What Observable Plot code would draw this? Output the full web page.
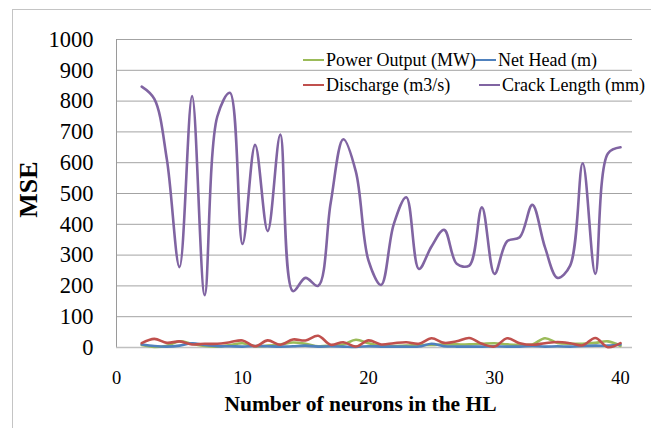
<!DOCTYPE html>
<html><head><meta charset="utf-8">
<script src="https://cdn.jsdelivr.net/npm/d3@7"></script>
<script src="https://cdn.jsdelivr.net/npm/@observablehq/plot@0.6"></script>
<style>
body{margin:0;background:#fff;}
#wrap{position:relative;width:651px;height:428px;overflow:hidden;font-family:"Liberation Serif","Times New Roman",serif;}
#border{position:absolute;left:12px;top:9px;width:700px;height:500px;border-left:1px solid #c4c4c4;border-top:1px solid #c4c4c4;}
#chart{position:absolute;left:0;top:0;}
.lg{position:absolute;display:flex;align-items:center;font-size:18px;color:#000;white-space:nowrap;line-height:1;}
.lg span.sw{display:inline-block;width:21px;height:2.5px;margin-right:2px;}
</style></head>
<body>
<div id="wrap"><div id="border"></div><div id="chart"></div></div>
<script>
const neurons = [2,3,4,5,6,7,8,9,10,11,12,13,14,15,16,17,18,19,20,21,22,23,24,25,26,27,28,29,30,31,32,33,34,35,36,37,38,39,40];
const powerOutput = [8,2,6,20,12,5,3,8,14,4,6,10,16,12,4,6,10,25,14,6,5,6,8,8,10,10,10,12,14,10,9,10,30,15,12,12,15,20,5];
const netHead = [10,5,3,6,14,8,4,4,3,5,4,3,4,6,3,4,3,2,4,3,3,3,3,12,4,3,3,3,4,3,3,5,3,4,3,5,6,6,10];
const discharge = [14,28,15,20,10,12,12,17,23,4,23,9,26,23,38,9,17,3,23,10,14,17,12,30,15,20,31,12,3,30,14,9,14,18,14,7,31,1,14];
const crackLength = [847,807,610,261,816,170,750,827,336,658,378,691,183,226,200,470,676,570,282,203,400,488,255,328,382,272,266,455,239,345,358,463,326,226,266,598,239,630,650];
const seriesNames = ["Power Output (MW)","Net Head (m)","Discharge (m3/s)","Crack Length (mm)"];
const seriesColors = ["#9BBB59","#4F81BD","#C0504D","#8064A2"];
const yTicks = [0,100,200,300,400,500,600,700,800,900,1000];
const xTicks = [0,10,20,30,40];
const yTitle = "MSE";
const xTitle = "Number of neurons in the HL";

const seriesValues = [powerOutput, netHead, discharge, crackLength];
const rows = [];
seriesNames.forEach((name, s) => neurons.forEach((n, i) => rows.push({series: name, x: n, y: seriesValues[s][i]})));

const chart = Plot.plot({
  width: 651, height: 428,
  marginLeft: 116, marginRight: 19, marginTop: 39, marginBottom: 81,
  style: {fontFamily: '"Liberation Serif","Times New Roman",serif', background: "transparent", color: "#000"},
  x: {domain: [0, 40.95]},
  y: {domain: [0, 1000]},
  color: {domain: seriesNames, range: seriesColors},
  marks: [
    Plot.gridY(yTicks, {stroke: "#a3a3a3", strokeOpacity: 1}),
    Plot.ruleX([0], {stroke: "#9a9a9a"}),
    Plot.ruleY([0], {stroke: "#c0c0c0", strokeWidth: 1.5}),
    Plot.axisY(yTicks, {tickSize: 0, tickPadding: 23, fontSize: 22.5, label: null, tickFormat: d => String(d)}),
    Plot.axisX(xTicks, {tickSize: 0, tickPadding: 23.5, fontSize: 18.5, label: null, tickFormat: d => String(d)}),
    Plot.text([yTitle], {frameAnchor: "left", textAnchor: "middle", dx: -88, dy: -4, rotate: -90, fontSize: 26, fontWeight: "bold", fill: "#000"}),
    Plot.text([xTitle], {frameAnchor: "bottom", textAnchor: "middle", dx: -14, dy: 63, fontSize: 21.5, fontWeight: "bold", fill: "#000"}),
    Plot.line(rows, {x: "x", y: "y", z: "series", stroke: "series", strokeWidth: 2.6, curve: "catmull-rom"})
  ]
});
document.getElementById("chart").appendChild(chart);

const legendPos = [[303,60],[475,60],[303,85],[479,85]];
const wrap = document.getElementById("wrap");
seriesNames.forEach((name, i) => {
  const d = document.createElement("div");
  d.className = "lg";
  d.style.left = legendPos[i][0] + "px";
  d.style.top = (legendPos[i][1] - 9) + "px";
  d.innerHTML = `<span class="sw" style="background:${seriesColors[i]}"></span><span>${name}</span>`;
  wrap.appendChild(d);
});
</script>
</body></html>
